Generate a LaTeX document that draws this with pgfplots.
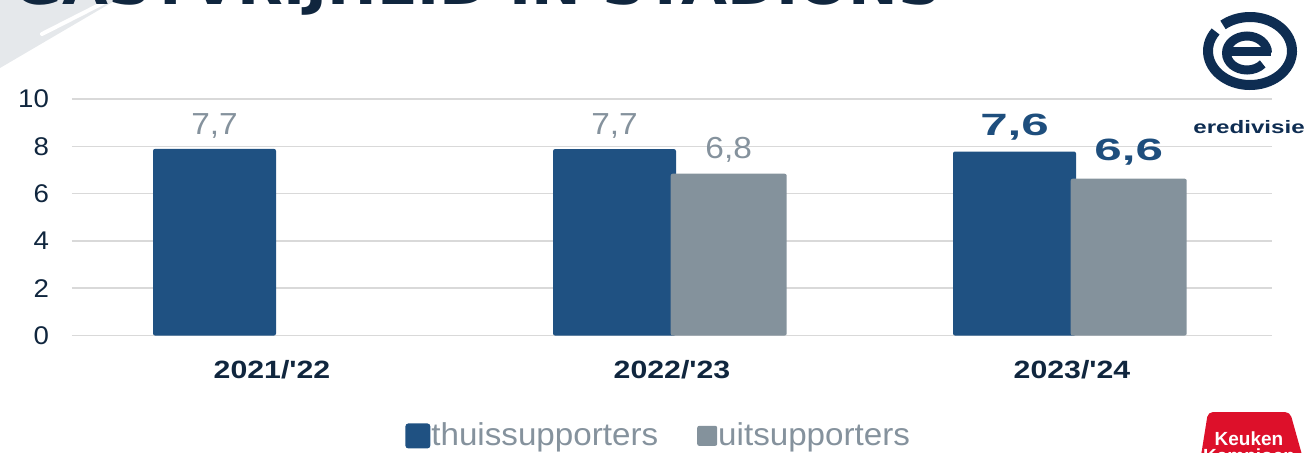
\documentclass[border=0pt]{standalone}
\usepackage{pgfplots}
\pgfplotsset{compat=1.18}
\usepackage{fontspec}
\setmainfont{Liberation Sans}
\newfontfamily\tickfont{Liberation Sans}[FakeStretch=1.08]
\newfontfamily\widefont{Liberation Sans}[FakeStretch=1.21]
\newfontfamily\valfont{Liberation Sans}[FakeStretch=1.1]
\newfontfamily\legfont{Liberation Sans}[FakeStretch=1.05]
\newfontfamily\extfont{Liberation Sans}[FakeStretch=1.6]
\newfontfamily\heavyfont{DejaVu Sans}

\definecolor{barblue}{RGB}{31,81,130}
\definecolor{bargray}{RGB}{132,146,156}
\definecolor{labgray}{RGB}{133,146,157}
\definecolor{navy}{RGB}{16,38,62}
\definecolor{valblue}{RGB}{30,78,125}
\definecolor{gridgray}{RGB}{217,217,217}
\definecolor{logonavy}{RGB}{14,45,82}
\definecolor{kkred}{RGB}{221,16,42}
\definecolor{bggray}{RGB}{229,232,235}

\begin{document}
\begin{tikzpicture}
\useasboundingbox (0,0) rectangle (653pt,226pt);
\clip (0,0) rectangle (653pt,226pt);
% slide decoration, top left
\fill[bggray] (0,226pt) -- (58pt,226pt) -- (0,192pt) -- cycle;
\draw[white, line width=2pt, line cap=round] (21pt,209pt) -- (51.5pt,224.5pt);
\node[anchor=base west, inner sep=0pt, text=navy] at (6.5pt,223.8pt)
  {\resizebox{464pt}{20pt}{\heavyfont\bfseries GASTVRIJHEID IN STADIONS}};

\begin{axis}[
  at={(36pt,58.25pt)}, anchor=south west,
  scale only axis, width=600pt, height=118.25pt,
  xmin=-0.5, xmax=2.5, ymin=0, ymax=10,
  xtick={0,1,2}, xticklabels={2021/'22,2022/'23,2023/'24},
  ytick={0,2,4,6,8,10},
  ymajorgrids, grid style={draw=gridgray, line width=0.8pt},
  axis line style={draw=none}, major tick length=0pt,
  /pgf/number format/assume math mode=true,
  yticklabel style={font=\tickfont\fontsize{12.8}{14}\selectfont, text=navy, xshift=-8pt},
  xticklabel style={font=\widefont\bfseries\fontsize{12.5}{14}\selectfont, text=navy, yshift=-9pt},
  ybar,
  legend columns=-1,
  legend style={at={(0.4885,-0.4234)}, anchor=center, draw=none, fill=none,
    font=\legfont\fontsize{15.8}{17}\selectfont, text=labgray, nodes={inner sep=0.5pt},
    /tikz/every even column/.append style={column sep=19pt}},
]
\addplot[fill=barblue, draw=none, bar width=61.5pt, bar shift=-28.75pt, rounded corners=1pt,
  legend image code/.code={\fill[barblue, rounded corners=1.5pt] (0pt,-6.4pt) rectangle (12.5pt,6.1pt);}]
  coordinates {(0,7.89) (1,7.88) (2,7.78)};
\addlegendentry{thuissupporters}
\addplot[fill=bargray, draw=none, bar width=58pt, bar shift=28.35pt, rounded corners=1pt,
  legend image code/.code={\fill[bargray] (0pt,-5.1pt) rectangle (10pt,4.9pt);}]
  coordinates {(1,6.84) (2,6.63)};
\addlegendentry{uitsupporters}

\node[anchor=base, text=labgray, font=\valfont\fontsize{15.2}{17}\selectfont] at ([xshift=-28.75pt]axis cs:0,8.48) {7,7};
\node[anchor=base, text=labgray, font=\valfont\fontsize{15.2}{17}\selectfont] at ([xshift=-28.75pt]axis cs:1,8.48) {7,7};
\node[anchor=base, text=labgray, font=\valfont\fontsize{15.2}{17}\selectfont] at ([xshift=28.35pt]axis cs:1,7.49) {6,8};
\node[anchor=base, text=valblue, font=\extfont\bfseries\fontsize{15.4}{17}\selectfont] at ([xshift=-28.75pt]axis cs:2,8.44) {7,6};
\node[anchor=base, text=valblue, font=\extfont\bfseries\fontsize{15.4}{17}\selectfont] at ([xshift=28.35pt]axis cs:2,7.42) {6,6};
\end{axis}

% eredivisie logo
\draw[logonavy, line width=5pt] ([shift={(145:21pt and 17pt)}]625pt,200.5pt)
  arc[start angle=145, end angle=490, x radius=21pt, y radius=17pt];
\draw[logonavy, line width=4.5pt] ([shift={(0:10.25pt and 8.5pt)}]623.5pt,199.5pt)
  arc[start angle=0, end angle=320, x radius=10.25pt, y radius=8.5pt];
\draw[logonavy, line width=4.5pt] (613.25pt,200.5pt) -- (635.5pt,200.5pt);
\node[anchor=base west, inner sep=0pt, text=logonavy] at (596.5pt,159.5pt)
  {\scalebox{1.34}[1]{\bfseries\fontsize{9}{10}\selectfont eredivisie}};

% Keuken Kampioen badge, cut off at the bottom
\fill[kkred, rounded corners=2.5pt] (600pt,-5pt) -- (604pt,20pt) -- (645pt,20pt) -- (652pt,-5pt) -- cycle;
\node[anchor=base, text=white, font=\bfseries\fontsize{9.5}{10}\selectfont] at (624.5pt,3.5pt) {Keuken};
\node[anchor=base, text=white, font=\bfseries\fontsize{9.5}{10}\selectfont] at (624.5pt,-5pt) {Kampioen};
\end{tikzpicture}
\end{document}
